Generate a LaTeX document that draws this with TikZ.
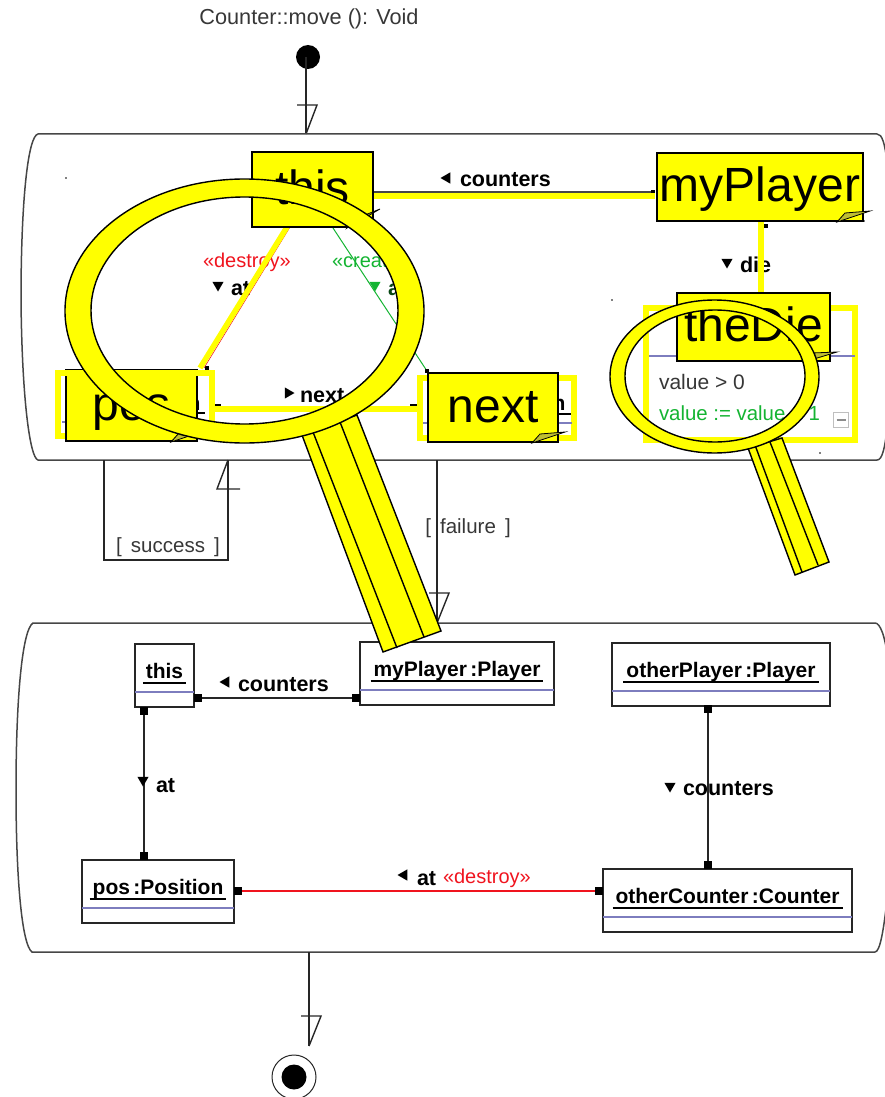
\documentclass[tikz,border=0pt]{standalone}
\usepackage{fontspec}
\setmainfont{Liberation Sans}
\usetikzlibrary{calc,shapes.geometric}

\definecolor{framegray}{RGB}{70,70,70}
\definecolor{textgray}{RGB}{55,55,55}
\definecolor{slotblue}{RGB}{125,125,190}
\definecolor{creategreen}{RGB}{20,180,50}
\definecolor{destroyred}{RGB}{240,20,30}
\definecolor{foldolive}{RGB}{190,190,50}
\definecolor{noteyellow}{RGB}{255,255,0}

\tikzset{
    frame/.style={draw=framegray,line width=1.5pt},
    flow/.style={draw=black!85,line width=1.4pt},
    obj/.style={draw=black!85,line width=1.5pt,fill=white,anchor=north west},
    objtext/.style={font=\fontsize{21}{21}\selectfont\bfseries,anchor=base},
    slot/.style={draw=slotblue,line width=1.5pt},
    port/.style={fill=black,minimum width=8pt,minimum height=8pt},
    portsmall/.style={fill=black,minimum width=4pt,minimum height=4pt},
    tri/.style={fill=black,regular polygon,regular polygon sides=3,minimum size=13pt},
    assoc/.style={font=\fontsize{21.5}{21.5}\selectfont\bfseries,anchor=base west},
    stereo/.style={font=\fontsize{20}{20}\selectfont,anchor=base west},
    guard/.style={font=\fontsize{20.5}{20.5}\selectfont,text=textgray,anchor=base},
    hilite/.style={draw=noteyellow,line width=5.5pt},
    hiliteframe/.style={draw=noteyellow,line width=6pt,fill=white,anchor=north west},
    note/.style={draw=black,line width=1.2pt,fill=noteyellow,anchor=north west,
        font=\fontsize{48}{48}\selectfont,text height=37pt,text depth=8pt},
    fold/.style={draw=black,line width=.8pt,fill=foldolive},
    lens/.style={draw=black,line width=1.4pt,fill=noteyellow,even odd rule},
    handleline/.style={draw=black,line width=1.4pt},
}

% object box: name, x, y, width, label
\newcommand{\objbox}[5]{
    \node[obj,minimum width=#4pt,minimum height=63pt] (#1) at (#2,#3) {};
    \node[objtext] (#1_txt) at ($(#1.north)+(0,34)$) {#5};
    \draw[line width=1.3pt] ($(#1_txt.base west)+(-3,5)$) -- ($(#1_txt.base east)+(3,5)$);
    \draw[slot] ($(#1.north west)+(0,48)$) -- ($(#1.north east)+(0,48)$);
}
% page corner of a note: name, height of its tip
\newcommand{\notefold}[2]{
    \draw[fold] ($(#1.south east)+(-26,1)$) -- ++(8,-9) -- ($(#1.south east)+(7,-#2)$) -- cycle;
}

\begin{document}
\begin{tikzpicture}[inner sep=0pt,outer sep=0pt,x=1pt,y=-1pt]
    \useasboundingbox (0,0) rectangle (885,1097);

    % start
    \node[font=\fontsize{21.7}{21.7}\selectfont,text=textgray] (title) at (309,19) {Counter::move (): Void};
    \node[circle,fill=black,minimum size=24pt] (start) at (308,57) {};
    \coordinate (act_a_in) at (306,134);
    \draw[flow] (act_a_in |- start) -- (act_a_in);
    \draw[flow] (297,105) -- (317,105) -- (act_a_in);

    % activity frames
    \draw[frame] (38,134) -- (877,134) .. controls (882,134) and (885,142) .. (888,170) -- (888,420)
        .. controls (885,450) and (882,460) .. (877,460) -- (38,460)
        .. controls (30,458) and (22,400) .. (21,300) .. controls (21,200) and (28,136) .. (38,134) -- cycle;
    \draw[frame] (33,623) -- (875,623) .. controls (880,623) and (885,635) .. (888,660) -- (888,890)
        .. controls (884,930) and (880,952) .. (875,952) -- (32,952)
        .. controls (22,945) and (16,880) .. (16,790) .. controls (16,700) and (22,630) .. (33,623) -- cycle;

    % success
    \coordinate (succ_a) at (104,460);
    \coordinate (succ_b) at (228,460);
    \draw[flow] (succ_a) |- (228,560) -- (succ_b);
    \draw[flow] (240,489) -- (217,489) -- (succ_b);
    \node[guard] (guard_succ) at (168,552) {[ \,success\, ]};

    % failure
    \coordinate (fail_a) at (437,460);
    \coordinate (fail_b) at (437,623);
    \draw[flow] (fail_a) -- (fail_b);
    \draw[flow] (429,593) -- (449,593) -- (fail_b);
    \node[guard] (guard_fail) at (468,533) {[ \,failure\, ]};

    % end
    \coordinate (act_b_out) at (309,952);
    \coordinate (end_tip) at (309,1046);
    \draw[flow] (act_b_out) -- (end_tip);
    \draw[flow] (301,1016) -- (321,1016) -- (end_tip);
    \node[circle,draw=black!85,line width=1pt,minimum size=44pt] (finish) at (294,1077) {};
    \node[circle,fill=black,minimum size=25pt] (finish_dot) at (294,1077) {};

    % lower objects
    \objbox{obj_this}{135}{644}{59}{this}
    \objbox{obj_player}{360}{642}{194}{myPlayer\,:Player}
    \objbox{obj_other}{612}{643}{218}{otherPlayer\,:Player}
    \objbox{obj_pos}{82}{860}{152}{pos\,:Position}
    \objbox{obj_counter}{603}{869}{249}{otherCounter\,:Counter}

    \node[port] (p_this_r) at (198,698) {};
    \node[port] (p_player_l) at (356,698) {};
    \node[port] (p_this_b) at (144,711) {};
    \node[port] (p_pos_t) at (144,856) {};
    \node[port] (p_other_b) at (708,709) {};
    \node[port] (p_counter_t) at (708,865) {};
    \node[port] (p_pos_r) at (238,891) {};
    \node[port] (p_counter_l) at (599,891) {};
    \draw[flow] (p_this_r) -- (p_player_l);
    \draw[flow] (p_this_b) -- (p_pos_t);
    \draw[flow] (p_other_b) -- (p_counter_t);
    \draw[draw=destroyred,line width=1.6pt] (p_pos_r) -- (p_counter_l);

    \node[tri,shape border rotate=90] (t_counters) at (226,682) {};
    \node[assoc] (l_counters) at (238,691) {counters};
    \node[tri,shape border rotate=180] (t_at) at (143,780) {};
    \node[assoc] (l_at) at (156,792) {at};
    \node[tri,shape border rotate=180] (t_other) at (670,786) {};
    \node[assoc] (l_other) at (683,795) {counters};
    \node[tri,shape border rotate=90] (t_at_b) at (404,875) {};
    \node[assoc] (l_at_b) at (417,885) {at};
    \node[stereo,text=destroyred] (l_destroy_b) at (443,883) {«destroy»};

    % upper labels
    \node[tri,shape border rotate=90] (t_up_counters) at (447,178) {};
    \node[assoc] (l_up_counters) at (460,186) {counters};
    \node[tri,shape border rotate=180] (t_die) at (727,262) {};
    \node[assoc] (l_die) at (740,272) {die};
    \node[tri,shape border rotate=180] (t_up_at) at (218,285) {};
    \node[assoc] (l_up_at) at (231,295) {at};
    \node[stereo,text=destroyred] (l_destroy) at (203,267) {«destroy»};
    \node[stereo,text=creategreen] (l_create) at (332,267) {«create»};
    \node[tri,fill=creategreen,shape border rotate=180] (t_new_at) at (375,285) {};
    \node[assoc,text=black!60!creategreen] (l_new_at) at (388,295) {at};
    \node[tri,shape border rotate=-90] (t_next) at (288,393) {};
    \node[assoc] (l_next) at (300,402) {next};

    % highlighted objects
    \node[hiliteframe,minimum width=154pt,minimum height=63pt] (hl_pos) at (58,373) {};
    \node[hiliteframe,minimum width=154pt,minimum height=60pt] (hl_next) at (420,378) {};
    \node[hiliteframe,minimum width=209pt,minimum height=132pt] (hl_die) at (646,308) {};
    \draw[slot] (62,422) -- (209,422);
    \draw[slot] (423,423) -- (572,423);
    \draw[slot] (649,356) -- (855,356);
    \node[objtext] (frag_pos) at (194,410) {n};
    \node[objtext] (frag_next) at (559,410) {n};
    \draw[line width=1.2pt] (197,413) -- (205,413);
    \draw[line width=1.2pt] (558,414) -- (571,414);
    \node[anchor=base west,font=\fontsize{21}{21}\selectfont,text=textgray] (guard_die) at (659,389) {value > 0};
    \node[anchor=base west,font=\fontsize{20.4}{20.4}\selectfont,text=creategreen] (effect_die) at (659,420) {value := value + 1};
    \node[draw=black!25,line width=1.2pt,fill=white,minimum size=15pt] (collapse) at (841,420) {};
    \draw[black!45,line width=1.2pt] (collapse.west) ++(3,0) -- ++(9,0);

    % thin links under the highlight
    \node[portsmall] (p_up_player) at (653,192) {};
    \node[portsmall] (p_up_die) at (766,226) {};
    \node[portsmall] (p_up_pos) at (207,368) {};
    \node[portsmall] (p_up_next) at (427,371) {};
    \draw[flow,draw=framegray] (373,192) -- (p_up_player);
    \draw[creategreen,line width=1pt] (333,228) -- (p_up_next);
    \draw[destroyred,line width=.6pt] (290,227) -- (204,368);
    \draw[line width=1.2pt] (215,405) -- (221,405) (410,405) -- (417,405);

    % yellow links
    \draw[hilite] (373,196) -- (655,196);
    \draw[hilite] (761,221) -- (761,293);
    \draw[hilite] (287,227) -- (200,368);
    \draw[hilite] (215,409) -- (417,409);

    % notes
    \node[note,minimum width=121pt,minimum height=75pt] (note_this) at (252,152) {this};
    \notefold{note_this}{18}
    \node[note,minimum width=206pt,minimum height=68pt] (note_player) at (657,153) {myPlayer};
    \notefold{note_player}{10}
    \node[note,minimum width=153pt,minimum height=68pt] (note_die) at (677,293) {theDie};
    \notefold{note_die}{9}
    \node[note,minimum width=131pt,minimum height=71pt] (note_pos) at (66,370) {pos};
    \notefold{note_pos}{10}
    \draw[noteyellow,line width=6pt] (hl_pos.north west) -- (hl_pos.north east);
    \node[note,minimum width=130pt,minimum height=69pt] (note_next) at (428,373) {next};
    \notefold{note_next}{10}

    % specks
    \foreach \sx/\sy in {66/178,612/300,820/453,864/221,830/361,558/442}
        \fill (\sx,\sy) circle (.8pt);

    % big lens
    \draw[lens] (302,435) -- (383,652) -- (441,631) -- (357,415) -- cycle;
    \draw[handleline] (313,432) -- (397,648);
    \draw[handleline] (340,422) -- (424,637);
    \draw[lens] (244.5,311) ellipse [x radius=179.5,y radius=132] (244.5,310.5) ellipse [x radius=153.5,y radius=113.5];

    % small lens
    \draw[lens] (748,448) -- (795,575) -- (829,562) -- (782,438) -- cycle;
    \draw[handleline] (755,445) -- (802,572);
    \draw[handleline] (770,442) -- (818,565);
    \draw[lens] (714.5,376.5) ellipse [x radius=104.5,y radius=76.5] (715,376) ellipse [x radius=90,y radius=66];
\end{tikzpicture}
\end{document}
